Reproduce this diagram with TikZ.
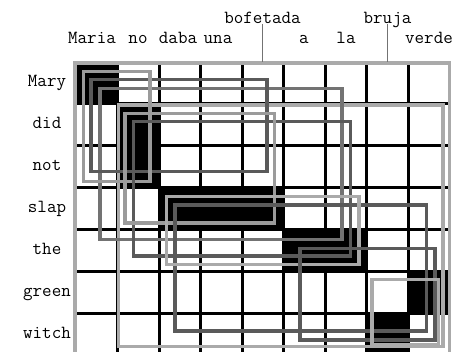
\documentclass[tikz,border=0pt]{standalone}
\usepackage{fontspec}
\definecolor{lightg}{RGB}{170,170,170}
\definecolor{lightgb}{RGB}{155,155,155}
\definecolor{midg}{RGB}{115,115,115}
\definecolor{darkg}{RGB}{90,90,90}
\tikzset{
  lbl/.style={font=\fontsize{18.5}{20}\selectfont\ttfamily, inner sep=0pt, anchor=base},
  gridline/.style={line width=3pt, black},
  lightbox/.style={draw=lightg, line width=3.6pt},
  lightbbox/.style={draw=lightgb, line width=3.6pt},
  midbox/.style={draw=midg, line width=3.6pt},
  darkbox/.style={draw=darkg, line width=3.6pt},
  pointer/.style={draw=midg, line width=1.6pt},
  alignfill/.style={fill=black}
}
\begin{document}
\begin{tikzpicture}[x=1pt,y=-1pt]
\useasboundingbox (0,0) rectangle (455,352);
\clip (0,0) rectangle (455,352);
% alignment points
\fill[alignfill] (76,62) rectangle (117.5,104);
\fill[alignfill] (117.5,104) rectangle (159,188);
\fill[alignfill] (159,188) rectangle (283.5,230);
\fill[alignfill] (283.5,230) rectangle (366.5,272);
\fill[alignfill] (408,272) rectangle (449.5,314);
\fill[alignfill] (366.5,314) rectangle (408,356);
% grid
\foreach \x in {117.5,159,200.5,242,283.5,325,366.5,408}
  \draw[gridline] (\x,62) -- (\x,356);
\foreach \y in {104,146,188,230,272,314}
  \draw[gridline] (76,\y) -- (449.5,\y);
% phrase pair boxes
\draw[lightbox] (75,63) rectangle (449.5,356);
\draw[lightbox] (118.5,105) rectangle (443,346.5);
\draw[midbox] (100,88.5) rectangle (342,239.5);
\draw[darkbox] (91,79.5) rectangle (267,171.5);
\draw[lightbbox] (83.5,71.5) rectangle (150,181.5);
\draw[darkbox] (133.5,121.5) rectangle (350.5,256);
\draw[lightbbox] (125,113.5) rectangle (274.5,223);
\draw[darkbox] (175,205) rectangle (426.5,331);
\draw[lightbox] (166.5,196.5) rectangle (359,264.5);
\draw[darkbox] (300,248.5) rectangle (435,340);
\draw[lightbox] (372,279.5) rectangle (438.5,345);
% column labels
\node[lbl] (maria) at (92,44) {Maria};
\node[lbl] (no) at (138,44) {no};
\node[lbl] (daba) at (178,44) {daba};
\node[lbl] (una) at (218,44) {una};
\node[lbl] (bofetada) at (262.5,24) {bofetada};
\node[lbl] (a) at (304,44) {a};
\node[lbl] (la) at (346,44) {la};
\node[lbl] (bruja) at (387.5,24) {bruja};
\node[lbl] (verde) at (429,44) {verde};
\coordinate (bofetop) at (262.5,62);
\coordinate (brujatop) at (387.5,62);
\draw[pointer] (bofetada.base) -- (bofetop);
\draw[pointer] (bruja.base) -- (brujatop);
% row labels
\node[lbl] (mary) at (47,87) {Mary};
\node[lbl] (did) at (47,129) {did};
\node[lbl] (not) at (47,171) {not};
\node[lbl] (slap) at (47,213) {slap};
\node[lbl] (the) at (47,255) {the};
\node[lbl] (green) at (47,297) {green};
\node[lbl] (witch) at (47,339) {witch};
\end{tikzpicture}
\end{document}
